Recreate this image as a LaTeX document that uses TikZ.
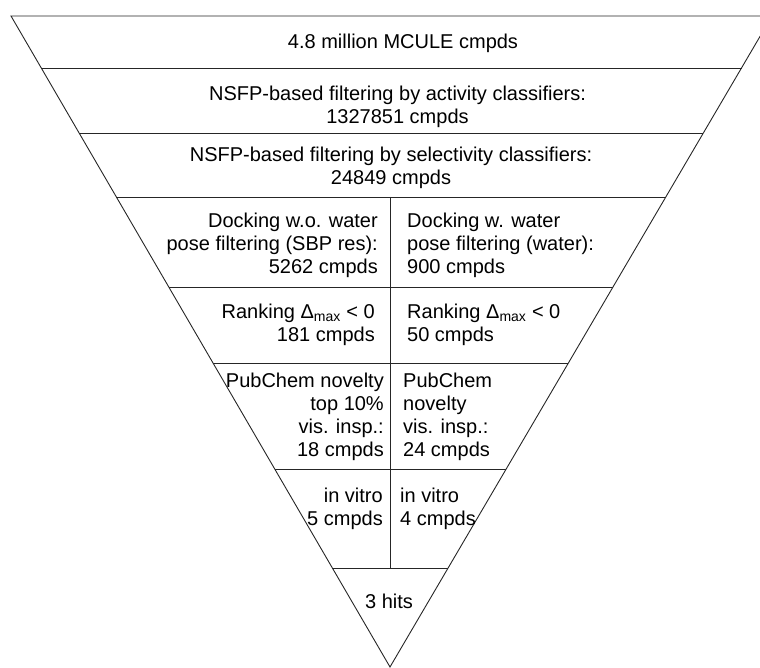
\documentclass[tikz,border=0pt]{standalone}
\usepackage{fontspec}
\setmainfont{Liberation Sans}
\usetikzlibrary{calc}

\begin{document}
\begin{tikzpicture}[
    x=1pt, y=-1pt,
    every node/.style={font=\fontsize{20}{23}\selectfont, inner sep=0pt},
    funnel/.style={line width=0.9pt, black!85},
    lefttext/.style={anchor=north east, align=right},
    righttext/.style={anchor=north west, align=left}
]
\useasboundingbox (0,0) rectangle (760,668);

% Funnel outline
\coordinate (tl) at (11,16);
\coordinate (tr) at (772,16);
\coordinate (apex) at (390,667);
\draw[funnel] (tl) -- (tr) -- (apex) -- cycle;

% Stage boundaries
\foreach \y in {68,133,197,287,363,469,568} {
    \draw[funnel] ($(tl)!{(\y-16)/651}!(apex)$) -- ($(tr)!{(\y-16)/651}!(apex)$);
}
\coordinate (splittop) at (390,197);
\coordinate (splitbot) at (390,568);
\draw[funnel] (splittop) -- (splitbot);

% Single stages
\node[anchor=base] (mcule) at (403,49) {4.8 million MCULE cmpds};
\node[anchor=north, align=center] (activity) at (397.5,85.5)
    {NSFP-based filtering by activity classifiers:\\1327851 cmpds};
\node[anchor=north, align=center] (selectivity) at (391,146.5)
    {NSFP-based filtering by selectivity classifiers:\\24849 cmpds};

% Docking
\node[lefttext] (dockdry) at (378,212.5)
    {Docking w.o. water\\pose filtering (SBP res):\\5262 cmpds};
\node[righttext] (dockwet) at (407,212.5)
    {Docking w. water\\pose filtering (water):\\900 cmpds};

% Ranking
\node[lefttext] (rankdry) at (375,303.5)
    {Ranking Δ\textsubscript{max} < 0\\181 cmpds};
\node[righttext] (rankwet) at (407,303.5)
    {Ranking Δ\textsubscript{max} < 0\\50 cmpds};

% Novelty and visual inspection
\node[lefttext] (noveldry) at (384,372.5)
    {PubChem novelty\\top 10\%\\vis. insp.:\\18 cmpds};
\node[righttext] (novelwet) at (403,372.5)
    {PubChem\\novelty\\vis. insp.:\\24 cmpds};

% In vitro
\node[lefttext] (vitrodry) at (383,487.5) {in vitro\\5 cmpds};
\node[righttext] (vitrowet) at (400,487.5) {in vitro\\4 cmpds};

% Hits
\node[anchor=base] (hits) at (389,608) {3 hits};

\end{tikzpicture}
\end{document}
